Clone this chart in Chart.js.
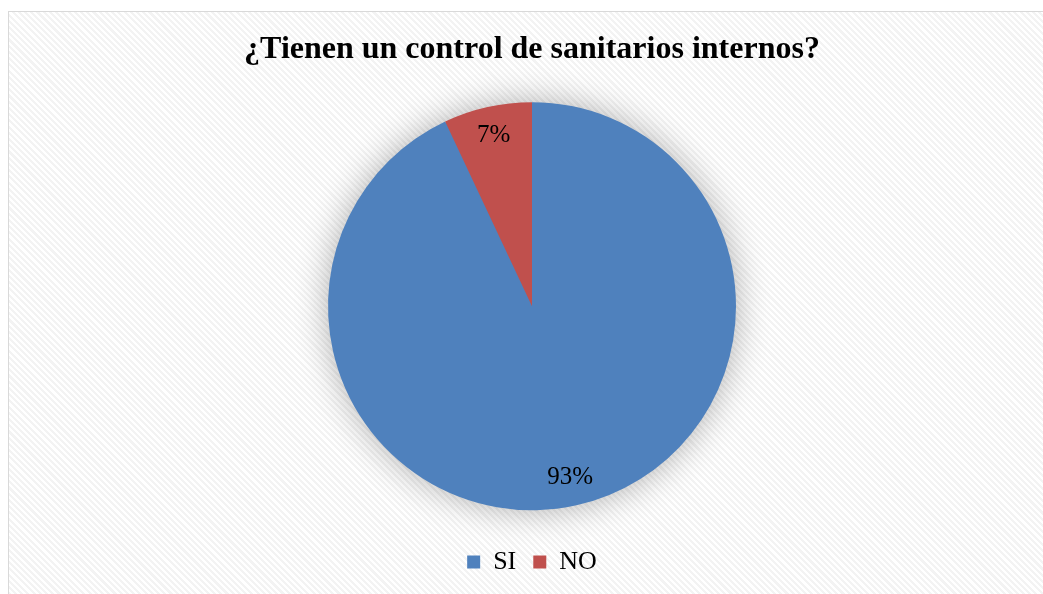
<!DOCTYPE html>
<html>
<head>
<meta charset="utf-8">
<script src="https://cdn.jsdelivr.net/npm/chart.js@4/dist/chart.umd.min.js"></script>
<style>
  html, body { margin: 0; padding: 0; background: #ffffff; width: 1043px; height: 594px; overflow: hidden; }
  #frame {
    position: absolute; left: 8px; top: 11px; width: 1100px; height: 700px;
    border: 1px solid #d9d9d9; box-sizing: border-box;
    background: repeating-linear-gradient(45deg, #ffffff 0px, #ffffff 2.2px, #f3f3f3 2.2px, #f3f3f3 4.4px);
  }
  #wrap { position: absolute; left: 0; top: 0; width: 1043px; height: 594px; }
</style>
</head>
<body>
<div id="frame"></div>
<div id="wrap"><canvas id="c" width="1043" height="594"></canvas></div>
<script>
const titleText = '¿Tienen un control de sanitarios internos?';
const categories = ['SI', 'NO'];
const values = [93, 7];
const percentLabels = ['93%', '7%'];
const sliceColors = ['#4F81BD', '#C0504D'];

const shadowPlugin = {
  id: 'pieShadow',
  beforeDatasetsDraw(chart) {
    const meta = chart.getDatasetMeta(0);
    if (!meta.data.length) return;
    const a = meta.data[0];
    const ctx = chart.ctx;
    ctx.save();
    ctx.shadowColor = 'rgba(0,0,0,0.32)';
    ctx.shadowBlur = 34;
    ctx.shadowOffsetX = 0;
    ctx.shadowOffsetY = 0;
    ctx.fillStyle = sliceColors[0];
    ctx.beginPath();
    ctx.arc(a.x, a.y, a.outerRadius - 1, 0, Math.PI * 2);
    ctx.fill();
    ctx.restore();
  }
};

const labelPlugin = {
  id: 'pieLabels',
  afterDatasetsDraw(chart) {
    const meta = chart.getDatasetMeta(0);
    const ctx = chart.ctx;
    ctx.save();
    ctx.font = '25px "Liberation Serif", "Times New Roman", serif';
    ctx.fillStyle = '#000000';
    ctx.textAlign = 'center';
    ctx.textBaseline = 'middle';
    meta.data.forEach((arc, i) => {
      const p = arc.getProps(['x', 'y', 'startAngle', 'endAngle', 'outerRadius'], true);
      const mid = (p.startAngle + p.endAngle) / 2;
      const r = p.outerRadius * 0.86;
      ctx.fillText(percentLabels[i], p.x + Math.cos(mid) * r, p.y + Math.sin(mid) * r);
    });
    ctx.restore();
  }
};

new Chart(document.getElementById('c'), {
  type: 'pie',
  data: {
    labels: categories,
    datasets: [{
      data: values,
      backgroundColor: sliceColors,
      borderWidth: 0,
      radius: 204
    }]
  },
  options: {
    responsive: false,
    animation: false,
    layout: { padding: { left: 21, right: 0, top: 0, bottom: 9 } },
    plugins: {
      title: {
        display: true,
        text: titleText,
        color: '#000000',
        font: { family: '"Liberation Serif", "Times New Roman", serif', size: 32, weight: 'bold' },
        padding: { top: 31, bottom: 11 }
      },
      legend: {
        position: 'bottom',
        labels: {
          color: '#000000',
          boxWidth: 13,
          boxHeight: 13,
          padding: 17,
          font: { family: '"Liberation Serif", "Times New Roman", serif', size: 26 }
        }
      },
      tooltip: { enabled: false }
    }
  },
  plugins: [shadowPlugin, labelPlugin]
});
</script>
</body>
</html>
